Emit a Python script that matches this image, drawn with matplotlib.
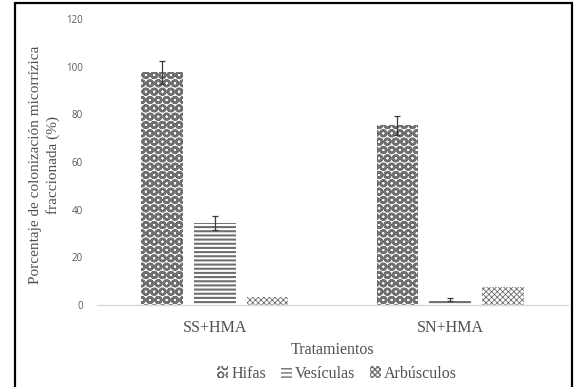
import matplotlib.pyplot as plt
import numpy as np
from matplotlib.patches import Rectangle

# colonisation per treatment
tratamientos = ["SS+HMA", "SN+HMA"]
series = ["Hifas", "Vesículas", "Arbúsculos"]
hifas = [97.5, 75.3]
vesiculas = [34.5, 2.3]
arbusculos = [3.4, 7.5]
err_hifas = [5.0, 4.0]
err_vesiculas = [3.0, 0.7]
err_arbusculos = [0.0, 0.0]

plt.rcParams['font.family'] = ['Liberation Serif', 'DejaVu Serif']

fig = plt.figure(figsize=(5.79, 3.87), dpi=100)
ax = fig.add_axes([0.1675, 0.2119, 0.8135, 0.7395])

x = np.arange(len(tratamientos))
w = 0.178
step = 0.224
gray = '#6f6f6f'

styles = [("OO", 1.75), ("----", 1.5), ("xxxxxx", 0.6)]
values = [hifas, vesiculas, arbusculos]
errors = [err_hifas, err_vesiculas, err_arbusculos]

plt.rcParams['hatch.color'] = gray
for i, (name, vals, errs, (hatch, hlw)) in enumerate(zip(series, values, errors, styles)):
    plt.rcParams['hatch.linewidth'] = hlw
    bars = ax.bar(x + (i - 1) * step, vals, w, color='white', edgecolor=gray,
                  linewidth=0, hatch=hatch, label=name)
    for b in bars:
        if hasattr(b, 'set_hatch_linewidth'):
            b.set_hatch_linewidth(hlw)
    if any(errs):
        ax.errorbar(x + (i - 1) * step, vals, yerr=errs, fmt='none',
                    ecolor='#3a3a3a', elinewidth=0.9, capsize=2.5, capthick=0.9)

ax.set_xlim(-0.5, 1.5)
ax.set_ylim(0, 120)
ax.set_yticks(range(0, 121, 20))
ax.set_xticks(x)
ax.set_xticklabels(tratamientos, fontsize=11.5, color='#505050')
ax.tick_params(axis='y', length=0, pad=10, labelsize=7, labelcolor='#595959')
for lab in ax.get_yticklabels():
    lab.set_family(['Open Sans', 'DejaVu Sans'])
ax.tick_params(axis='x', length=0, pad=11)

for s in ['top', 'right', 'left']:
    ax.spines[s].set_visible(False)
ax.spines['bottom'].set_color('#d9d9d9')
ax.spines['bottom'].set_linewidth(1.0)

ax.set_xlabel("Tratamientos", fontsize=11.5, color='#505050', labelpad=4)
ax.set_ylabel("Porcentaje de colonización micorrízica\nfraccionada (%)",
              fontsize=11, color='#505050', linespacing=1.4)
ax.yaxis.set_label_coords(-0.078, 0.49)

leg = ax.legend(loc='center', bbox_to_anchor=(0.51, -0.24), ncol=3,
                frameon=False, fontsize=11.5, handlelength=0.7, handleheight=0.7,
                handletextpad=0.2, columnspacing=0.9, labelcolor='#505050')
for h in leg.legend_handles:
    if hasattr(h, 'set_hatch_linewidth'):
        h.set_hatch_linewidth(1.0)

# black frame round the figure
fig.patches.append(Rectangle((15 / 579, -0.02), 557 / 579, 1.0 - 3 / 387 + 0.02,
                             transform=fig.transFigure, fill=False,
                             edgecolor='black', linewidth=1.6, clip_on=False))

fig.savefig("out.png", dpi=100)
